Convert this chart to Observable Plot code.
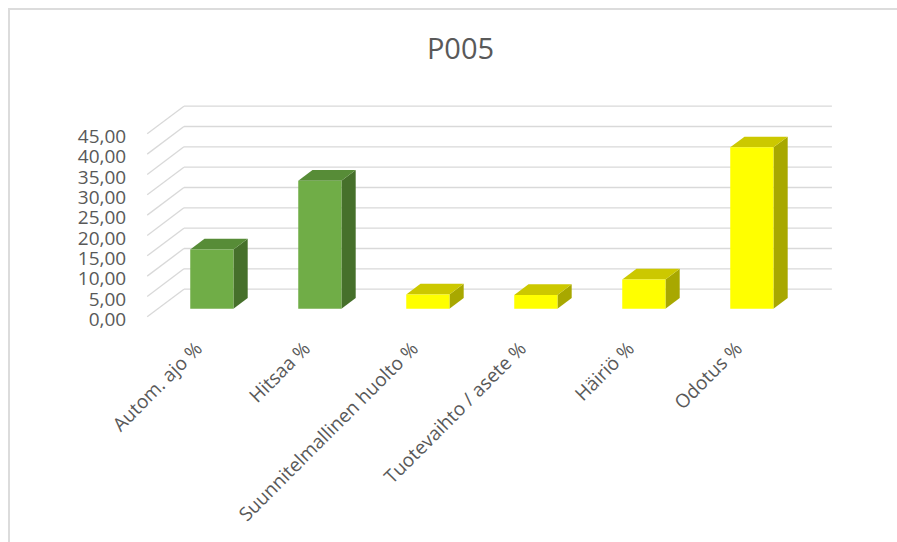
<!DOCTYPE html>
<html><head><meta charset="utf-8">
<script src="https://cdn.jsdelivr.net/npm/d3@7"></script>
<script src="https://cdn.jsdelivr.net/npm/@observablehq/plot@0.6"></script>
<style>
html,body{margin:0;padding:0;background:#fff;overflow:hidden;width:897px;height:542px;}
#frame{position:absolute;left:8px;top:8px;width:1000px;height:1000px;border-left:2px solid #DCDCDC;border-top:2px solid #DCDCDC;pointer-events:none;}
#title{position:relative;width:897px;height:90px;box-sizing:border-box;padding-top:33px;padding-left:24px;text-align:center;font-family:"Open Sans",sans-serif;font-size:29px;line-height:29px;color:#595959;}
#chart{position:relative;}
</style>
</head><body>
<div id="frame"></div>
<div id="title">P005</div>
<div id="chart"></div>
<script>
const categories = ["Autom. ajo %", "Hitsaa %", "Suunnitelmallinen huolto %", "Tuotevaihto / asete %", "Häiriö %", "Odotus %"];
const values = [14.6, 31.5, 3.5, 3.4, 7.2, 39.7];
const groups = ["Tuotanto", "Tuotanto", "Seisokki", "Seisokki", "Seisokki", "Seisokki"];
const yTicks = [0, 5, 10, 15, 20, 25, 30, 35, 40, 45];

const palette = {
  Tuotanto: {front: "#70AD47", top: "#578C37", side: "#46702B"},
  Seisokki: {front: "#FFFF00", top: "#CCC800", side: "#A8A800"}
};
// 3D projection: full floor depth expressed in data units
const DX = 0.34, DY = 6.79;
const dFront = 0.29, dBack = 0.678, half = 0.2;
const P = (x, v, d) => ({x: x + d * DX, y: v + d * DY});

const faces = [];
categories.forEach((c, i) => {
  const v = values[i], pal = palette[groups[i]];
  const x1 = i + 0.5 - half, x2 = i + 0.5 + half;
  const add = (id, fill, pts) => pts.forEach(p => faces.push({id, fill, ...p}));
  add(i + "side", pal.side, [P(x2, 0, dFront), P(x2, v, dFront), P(x2, v, dBack), P(x2, 0, dBack)]);
  add(i + "top", pal.top, [P(x1, v, dFront), P(x2, v, dFront), P(x2, v, dBack), P(x1, v, dBack)]);
  add(i + "front", pal.front, [P(x1, 0, dFront), P(x2, 0, dFront), P(x2, v, dFront), P(x1, v, dFront)]);
});

const fmt = d => d.toFixed(2).replace(".", ",");
const grid = "#D9D9D9";

const chart = Plot.plot({
  width: 897, height: 452, margin: 0,
  x: {type: "linear", domain: [0, 6], range: [146.7, 794.7], axis: null},
  y: {type: "linear", domain: [0, 45], range: [226.3, 43.3], axis: null},
  color: {type: "identity"},
  style: {fontFamily: '"Open Sans", sans-serif', fontSize: "19px", color: "#595959", background: "transparent", overflow: "visible"},
  marks: [
    Plot.link(yTicks, {x1: () => 0, y1: d => d, x2: () => DX, y2: d => d + DY, stroke: grid, strokeWidth: 1.3}),
    Plot.link(yTicks, {x1: () => DX, x2: () => 6 + DX, y1: d => d + DY, y2: d => d + DY, stroke: grid, strokeWidth: 1.3}),
    Plot.line(faces, {x: "x", y: "y", z: "id", fill: "fill", stroke: "none", curve: "linear-closed"}),
    Plot.text(yTicks, {x: () => 0, y: d => d, text: fmt, textAnchor: "end", dx: -21, dy: 3, fill: "#595959"}),
    Plot.text(categories, {x: (d, i) => i + 0.5 + dFront * DX, y: () => dFront * DY, text: d => d,
      rotate: -45, textAnchor: "end", lineAnchor: "bottom", dx: -8.5, dy: 41, fill: "#595959"})
  ]
});
document.getElementById("chart").appendChild(chart);
</script>
</body></html>
